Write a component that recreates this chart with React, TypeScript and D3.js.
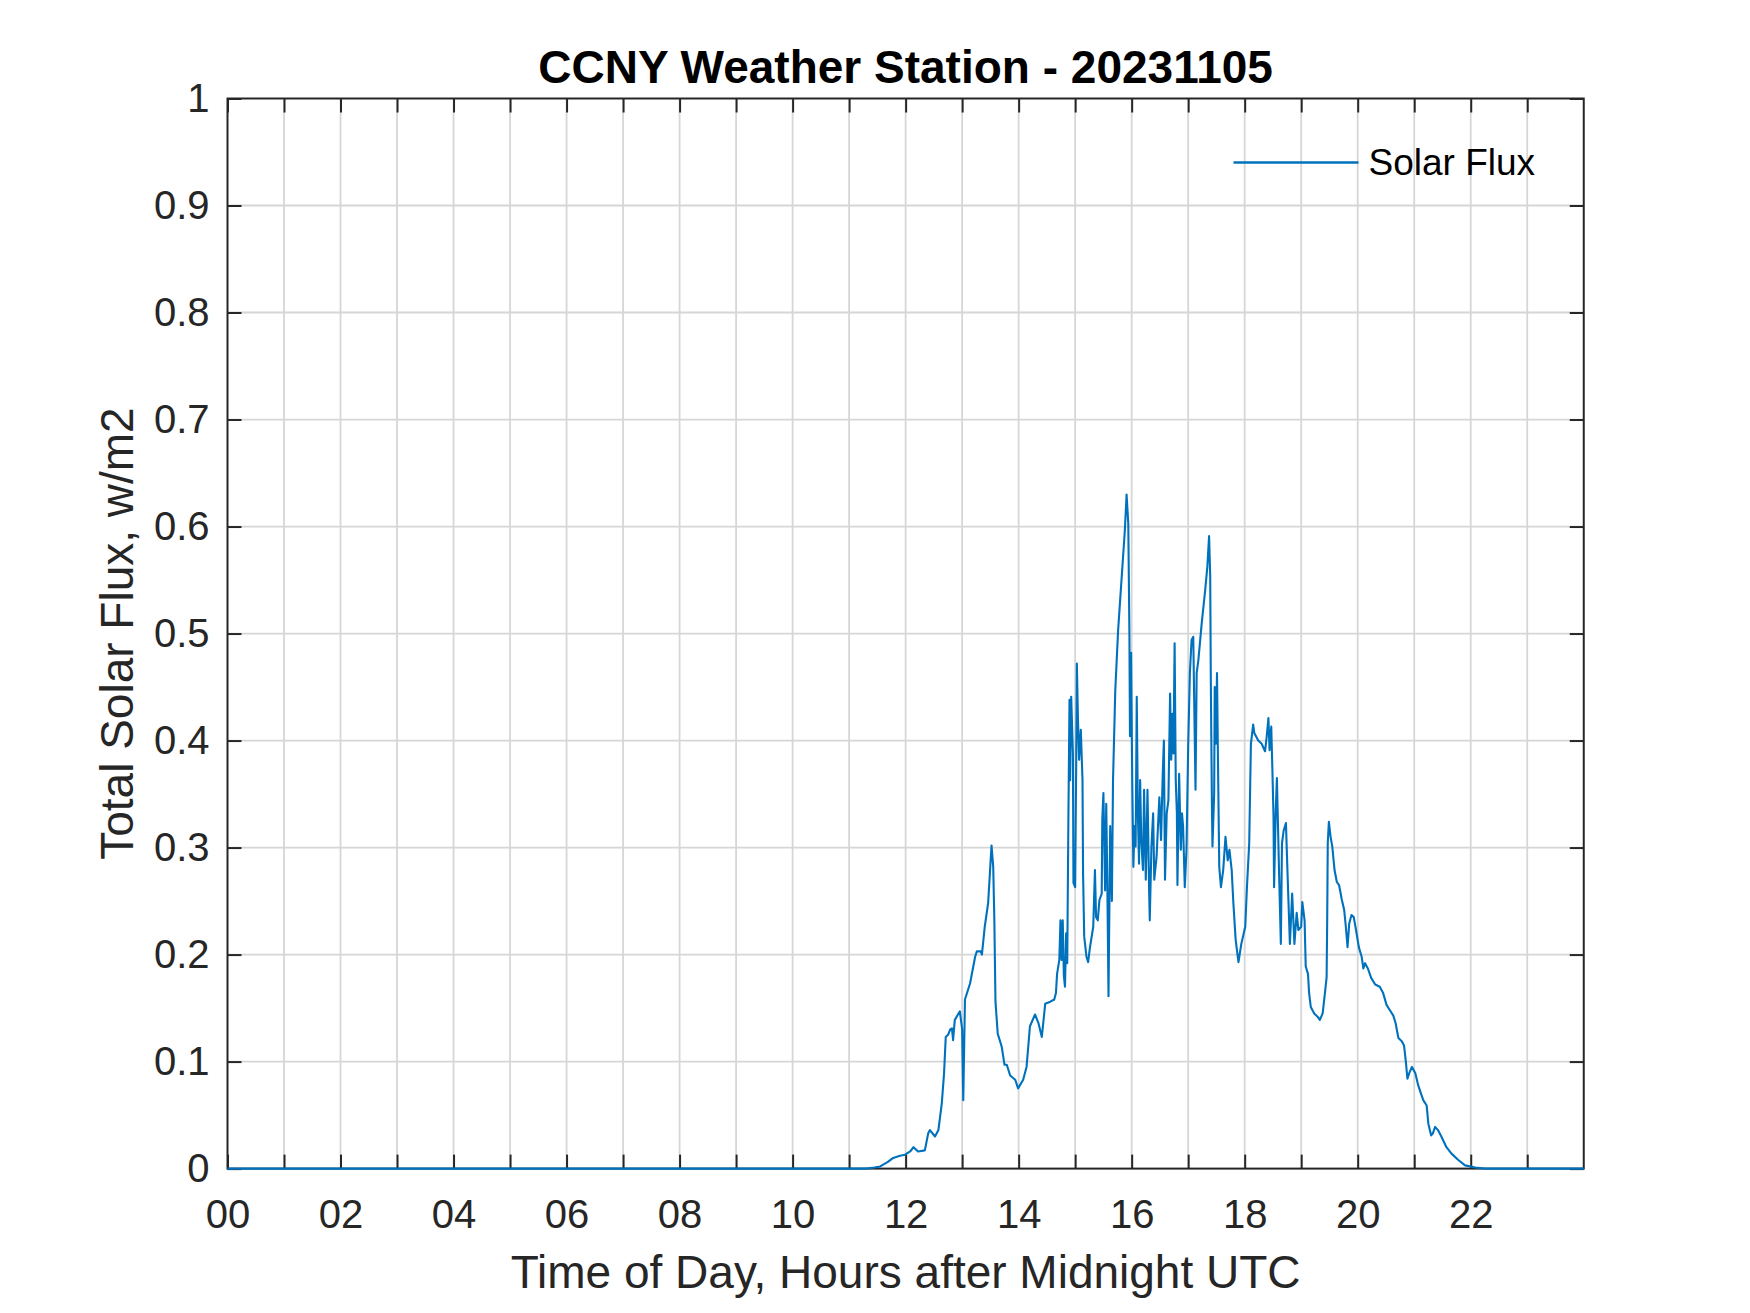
import React, { useEffect, useRef } from 'react';
import * as d3 from 'd3';

// hours after midnight UTC
const hours = [
  0, 11.3, 11.45, 11.55, 11.68, 11.78, 11.9, 11.99, 12.08, 12.14, 12.22, 12.34, 12.4, 12.43, 12.52, 12.58,
  12.64, 12.68, 12.71, 12.75, 12.79, 12.82, 12.84, 12.87, 12.96, 13.0, 13.02, 13.05, 13.14, 13.23, 13.26, 13.33,
  13.35, 13.4, 13.46, 13.52, 13.55, 13.57, 13.59, 13.63, 13.7, 13.75, 13.79, 13.85, 13.94, 13.99, 14.08, 14.14,
  14.2, 14.29, 14.35, 14.41, 14.47, 14.56, 14.63, 14.66, 14.68, 14.72, 14.74, 14.76, 14.78, 14.8, 14.82, 14.84,
  14.86, 14.88, 14.9, 14.91, 14.93, 14.96, 14.97, 15.0, 15.02, 15.03, 15.05, 15.07, 15.1, 15.13, 15.14, 15.16,
  15.2, 15.23, 15.26, 15.32, 15.35, 15.37, 15.4, 15.43, 15.47, 15.48, 15.5, 15.53, 15.55, 15.57, 15.59, 15.62,
  15.65, 15.67, 15.71, 15.76, 15.82, 15.88, 15.91, 15.94, 15.96, 15.97, 15.99, 16.01, 16.03, 16.05, 16.07, 16.09,
  16.11, 16.13, 16.15, 16.17, 16.2, 16.22, 16.25, 16.28, 16.31, 16.32, 16.35, 16.38, 16.4, 16.44, 16.49, 16.52,
  16.55, 16.57, 16.59, 16.62, 16.65, 16.68, 16.7, 16.72, 16.74, 16.76, 16.78, 16.8, 16.81, 16.84, 16.87, 16.89,
  16.91, 16.94, 16.97, 17.0, 17.03, 17.06, 17.09, 17.11, 17.13, 17.15, 17.18, 17.24, 17.3, 17.34, 17.37, 17.39,
  17.4, 17.42, 17.43, 17.46, 17.47, 17.49, 17.51, 17.53, 17.55, 17.58, 17.62, 17.66, 17.7, 17.73, 17.77, 17.8,
  17.84, 17.89, 17.94, 18.01, 18.04, 18.08, 18.11, 18.15, 18.17, 18.24, 18.3, 18.36, 18.39, 18.42, 18.44, 18.47,
  18.49, 18.51, 18.52, 18.55, 18.57, 18.61, 18.64, 18.66, 18.69, 18.73, 18.76, 18.8, 18.84, 18.88, 18.92, 18.95,
  19.0, 19.02, 19.06, 19.08, 19.12, 19.14, 19.17, 19.23, 19.29, 19.33, 19.38, 19.42, 19.45, 19.46, 19.47, 19.49,
  19.52, 19.55, 19.59, 19.63, 19.67, 19.72, 19.76, 19.79, 19.82, 19.85, 19.89, 19.93, 19.97, 20.02, 20.07, 20.1,
  20.13, 20.18, 20.24, 20.31, 20.39, 20.45, 20.51, 20.57, 20.63, 20.67, 20.72, 20.78, 20.82, 20.85, 20.88, 20.91,
  20.96, 21.02, 21.07, 21.12, 21.16, 21.22, 21.25, 21.3, 21.33, 21.37, 21.42, 21.48, 21.57, 21.66, 21.78, 21.9,
  22.08, 22.25, 24,
];

// total solar flux, same order as hours
const flux = [
  0, 0, 0.001, 0.002, 0.006, 0.01, 0.012, 0.013, 0.016, 0.02, 0.016, 0.017, 0.033, 0.036, 0.03, 0.036,
  0.061, 0.089, 0.123, 0.125, 0.13, 0.131, 0.12, 0.139, 0.147, 0.13, 0.064, 0.158, 0.173, 0.198, 0.203, 0.203,
  0.2, 0.226, 0.248, 0.302, 0.282, 0.232, 0.156, 0.126, 0.114, 0.097, 0.097, 0.087, 0.083, 0.075, 0.083, 0.095,
  0.133, 0.144, 0.136, 0.123, 0.154, 0.156, 0.158, 0.164, 0.182, 0.195, 0.232, 0.195, 0.232, 0.18, 0.17, 0.22,
  0.192, 0.326, 0.438, 0.363, 0.441, 0.388, 0.267, 0.263, 0.388, 0.472, 0.419, 0.382, 0.41, 0.363, 0.276, 0.217,
  0.198, 0.193, 0.206, 0.226, 0.279, 0.235, 0.232, 0.251, 0.257, 0.326, 0.351, 0.26, 0.341, 0.263, 0.161, 0.32,
  0.25, 0.363, 0.447, 0.503, 0.55, 0.597, 0.63, 0.603, 0.5, 0.404, 0.482, 0.363, 0.282, 0.32, 0.301, 0.441,
  0.332, 0.285, 0.363, 0.307, 0.279, 0.354, 0.27, 0.354, 0.257, 0.232, 0.301, 0.332, 0.27, 0.291, 0.347, 0.307,
  0.369, 0.4, 0.27, 0.332, 0.344, 0.444, 0.382, 0.425, 0.388, 0.491, 0.363, 0.332, 0.265, 0.369, 0.298, 0.332,
  0.32, 0.263, 0.298, 0.394, 0.463, 0.494, 0.497, 0.425, 0.354, 0.463, 0.475, 0.51, 0.54, 0.563, 0.591, 0.553,
  0.46, 0.341, 0.301, 0.351, 0.45, 0.397, 0.463, 0.369, 0.282, 0.263, 0.279, 0.31, 0.288, 0.298, 0.279, 0.248,
  0.214, 0.193, 0.21, 0.226, 0.263, 0.304, 0.397, 0.415, 0.407, 0.4, 0.397, 0.39, 0.404, 0.421, 0.391, 0.413,
  0.373, 0.329, 0.263, 0.335, 0.365, 0.273, 0.21, 0.304, 0.316, 0.323, 0.273, 0.21, 0.257, 0.21, 0.239, 0.223,
  0.226, 0.249, 0.232, 0.189, 0.182, 0.164, 0.151, 0.145, 0.142, 0.139, 0.145, 0.164, 0.179, 0.232, 0.304, 0.324,
  0.31, 0.301, 0.279, 0.268, 0.265, 0.251, 0.242, 0.226, 0.207, 0.229, 0.237, 0.235, 0.223, 0.207, 0.198, 0.187,
  0.192, 0.187, 0.178, 0.172, 0.17, 0.164, 0.153, 0.148, 0.143, 0.136, 0.122, 0.119, 0.115, 0.101, 0.084, 0.089,
  0.095, 0.089, 0.078, 0.07, 0.064, 0.059, 0.042, 0.031, 0.033, 0.039, 0.036, 0.03, 0.02, 0.014, 0.008, 0.003,
  0.001, 0, 0,
];

const xTicks = d3.range(0, 24);
const yTicks = d3.range(0, 11).map(i => i / 10);

const App: React.FC = () => {
  const svgRef = useRef<SVGSVGElement>(null);

  useEffect(() => {
    if (!svgRef.current) return;
    document.body.style.margin = '0';

    const width = 1750;
    const height = 1313;
    // matlab default axes position
    const margin = { top: 98.5, right: 166.25, bottom: 144.4, left: 227.5 };
    const innerWidth = width - margin.left - margin.right;
    const innerHeight = height - margin.top - margin.bottom;
    const font = '"Liberation Sans", Arial, Helvetica, sans-serif';
    const ink = '#262626';
    const gridColor = '#d6d6d6';

    const svg = d3.select(svgRef.current);
    svg.selectAll('*').remove();
    svg.append('rect').attr('width', width).attr('height', height).attr('fill', '#ffffff');

    const g = svg.append('g').attr('transform', `translate(${margin.left},${margin.top})`);

    const x = d3.scaleLinear().domain([0, 24]).range([0, innerWidth]);
    const y = d3.scaleLinear().domain([0, 1]).range([innerHeight, 0]);

    // grid
    g.append('g')
      .selectAll('line')
      .data(xTicks.slice(1))
      .join('line')
      .attr('x1', d => x(d)).attr('x2', d => x(d))
      .attr('y1', 0).attr('y2', innerHeight)
      .attr('stroke', gridColor).attr('stroke-width', 1.8);
    g.append('g')
      .selectAll('line')
      .data(yTicks.slice(1, -1))
      .join('line')
      .attr('x1', 0).attr('x2', innerWidth)
      .attr('y1', d => y(d)).attr('y2', d => y(d))
      .attr('stroke', gridColor).attr('stroke-width', 1.8);

    const tickLen = 14;
    const styleAxis = (sel: d3.Selection<SVGGElement, unknown, null, undefined>) => {
      sel.select('.domain').remove();
      sel.selectAll('.tick line').attr('stroke', ink).attr('stroke-width', 2);
      sel.selectAll('.tick text')
        .attr('fill', ink)
        .attr('font-family', font)
        .attr('font-size', 40);
    };

    g.append('g')
      .attr('transform', `translate(0,${innerHeight})`)
      .call(
        d3.axisBottom(x)
          .tickValues(xTicks)
          .tickSize(-tickLen)
          .tickPadding(31)
          .tickFormat(d => (+d % 2 === 0 ? d3.format('02d')(+d) : ''))
      )
      .call(styleAxis);

    g.append('g')
      .call(d3.axisTop(x).tickValues(xTicks).tickSize(-tickLen).tickFormat(() => ''))
      .call(styleAxis);

    g.append('g')
      .call(
        d3.axisLeft(y)
          .tickValues(yTicks)
          .tickSize(-tickLen)
          .tickPadding(18)
          .tickFormat(d => d3.format('~g')(+d))
      )
      .call(styleAxis);

    g.append('g')
      .attr('transform', `translate(${innerWidth},0)`)
      .call(d3.axisRight(y).tickValues(yTicks).tickSize(-tickLen).tickFormat(() => ''))
      .call(styleAxis);

    // box
    g.append('rect')
      .attr('width', innerWidth)
      .attr('height', innerHeight)
      .attr('fill', 'none')
      .attr('stroke', ink)
      .attr('stroke-width', 2);

    // data line
    const series = hours.map((h, i) => ({ h, v: flux[i] }));
    const line = d3.line<{ h: number; v: number }>()
      .x(d => x(d.h))
      .y(d => y(d.v));

    g.append('path')
      .datum(series)
      .attr('d', line)
      .attr('fill', 'none')
      .attr('stroke', '#0072BD')
      .attr('stroke-width', 2.1)
      .attr('stroke-linejoin', 'round');

    // legend
    const lg = g.append('g').attr('transform', `translate(${1233.5 - margin.left},${162.5 - margin.top})`);
    lg.append('line')
      .attr('x1', 0).attr('x2', 125)
      .attr('y1', 0).attr('y2', 0)
      .attr('stroke', '#0072BD').attr('stroke-width', 2.4);
    lg.append('text')
      .attr('x', 135)
      .attr('y', 0)
      .attr('dy', '0.35em')
      .attr('fill', '#000')
      .attr('font-family', font)
      .attr('font-size', 37)
      .text('Solar Flux');

    // title and labels
    svg.append('text')
      .attr('x', margin.left + innerWidth / 2)
      .attr('y', 83)
      .attr('text-anchor', 'middle')
      .attr('font-family', font)
      .attr('font-weight', 'bold')
      .attr('font-size', 46)
      .attr('fill', '#000')
      .text('CCNY Weather Station - 20231105');

    svg.append('text')
      .attr('x', margin.left + innerWidth / 2)
      .attr('y', 1288)
      .attr('text-anchor', 'middle')
      .attr('font-family', font)
      .attr('font-size', 46)
      .attr('fill', ink)
      .text('Time of Day, Hours after Midnight UTC');

    svg.append('text')
      .attr('transform', `translate(${133},${margin.top + innerHeight / 2}) rotate(-90)`)
      .attr('text-anchor', 'middle')
      .attr('font-family', font)
      .attr('font-size', 46)
      .attr('fill', ink)
      .text('Total Solar Flux, w/m2');
  }, []);

  return (
    <svg
      ref={svgRef}
      width={1750}
      height={1313}
      viewBox="0 0 1750 1313"
      style={{ display: 'block' }}
    ></svg>
  );
};

export default App;
